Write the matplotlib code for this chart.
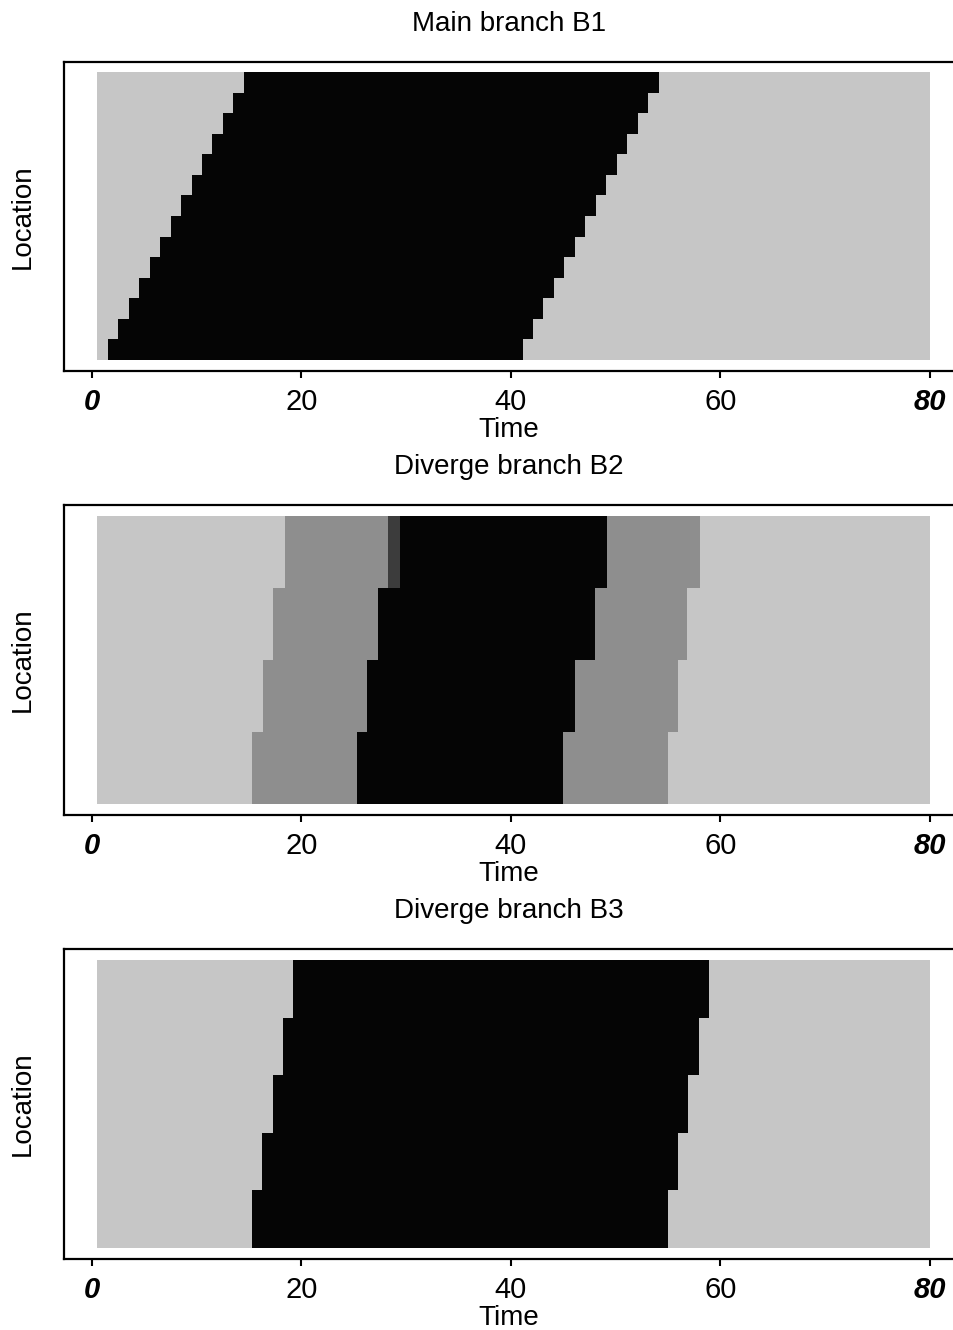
import matplotlib
matplotlib.use("Agg")
import matplotlib.pyplot as plt

plt.rcParams['font.family'] = ['Liberation Sans', 'DejaVu Sans']

# ---------------- data ----------------
titles = ["Main branch B1", "Diverge branch B2", "Diverge branch B3"]
x_ticks = [0, 20, 40, 60, 80]
x_tick_labels = ["0", "20", "40", "60", "80"]

# simulation horizon covered by the grey (free-flow) cells
t_first = 0.45
t_last = 80.0

# B1: 14 locations (bottom -> top), congested (black) interval per location
B1_black_start = [1.5, 2.5, 3.5, 4.5, 5.5, 6.5, 7.5, 8.5, 9.5, 10.5, 11.5, 12.5, 13.5, 14.5]
B1_black_end = [41.1, 42.1, 43.1, 44.1, 45.1, 46.1, 47.1, 48.1, 49.1, 50.1, 51.1, 52.1, 53.1, 54.1]

# B2: 4 locations (bottom -> top)
B2_mid_start = [15.3, 16.3, 17.3, 18.4]
B2_black_start = [25.3, 26.3, 27.3, 28.3]
B2_black_end = [45.0, 46.1, 48.0, 49.2]
B2_mid_end = [55.0, 55.9, 56.8, 58.0]
# darker transition cell in the top location of B2
B2_dark_row = 4
B2_dark_start = 28.3
B2_dark_end = 29.4

# B3: 5 locations (bottom -> top)
B3_black_start = [15.3, 16.2, 17.3, 18.2, 19.2]
B3_black_end = [55.0, 55.9, 56.9, 57.9, 58.9]

# ---------------- style ----------------
LIGHT = "#c6c6c6"
MID = "#8e8e8e"
DARK = "#3c3c3c"
BLACK = "#050505"

W, H = 954, 1330
fig = plt.figure(figsize=(W / 100, H / 100), dpi=100)

# pixel geometry of the three panels (top, bottom)
panel_px = [(62, 371), (505, 815), (949, 1259)]
left_px = 64
px_per_t = (930 - 92) / 80.0
xlim = (0 - (92 - left_px) / px_per_t, 80 + (W - 930) / px_per_t)


def draw_band(ax, rows, starts, ends, color):
    ax.barh(rows, [e - s for s, e in zip(starts, ends)], left=starts, height=1.0,
            color=color, linewidth=0, antialiased=False)


def setup(ax, idx, title, nrows):
    ax.set_xlim(*xlim)
    top, bot = panel_px[idx]
    ax_h = bot - top
    grey_h = 288.0
    row_h = grey_h / nrows
    margin_bot = 11.0
    margin_top = ax_h - grey_h - margin_bot
    ax.set_ylim(0.5 - margin_bot / row_h, nrows + 0.5 + margin_top / row_h)
    ax.set_yticks([])
    ax.set_xticks(x_ticks)
    ax.set_xticklabels(x_tick_labels)
    for i, lab in enumerate(ax.get_xticklabels()):
        lab.set_fontsize(21)
        if i in (0, len(x_ticks) - 1):
            lab.set_fontstyle('italic')
            lab.set_fontweight('bold')
    ax.tick_params(axis='x', direction='out', length=5, width=1.5, pad=7)
    ax.spines['right'].set_visible(False)
    for s in ('left', 'top', 'bottom'):
        ax.spines[s].set_linewidth(1.6)
    ax.set_title(title, fontsize=20, pad=22)
    ax.set_xlabel("Time", fontsize=20, labelpad=1)
    ax.set_ylabel("Location", fontsize=20, labelpad=20)


axes = []
for top, bot in panel_px:
    ax = fig.add_axes([left_px / W, 1 - bot / H, (W - left_px) / W, (bot - top) / H])
    axes.append(ax)

# B1
ax = axes[0]
n = len(B1_black_start)
rows = list(range(1, n + 1))
draw_band(ax, rows, [t_first] * n, [t_last] * n, LIGHT)
draw_band(ax, rows, B1_black_start, B1_black_end, BLACK)
setup(ax, 0, titles[0], n)

# B2
ax = axes[1]
n = len(B2_mid_start)
rows = list(range(1, n + 1))
draw_band(ax, rows, [t_first] * n, [t_last] * n, LIGHT)
draw_band(ax, rows, B2_mid_start, B2_mid_end, MID)
draw_band(ax, rows, B2_black_start, B2_black_end, BLACK)
draw_band(ax, [B2_dark_row], [B2_dark_start], [B2_dark_end], DARK)
setup(ax, 1, titles[1], n)

# B3
ax = axes[2]
n = len(B3_black_start)
rows = list(range(1, n + 1))
draw_band(ax, rows, [t_first] * n, [t_last] * n, LIGHT)
draw_band(ax, rows, B3_black_start, B3_black_end, BLACK)
setup(ax, 2, titles[2], n)

fig.savefig("out.png", dpi=100)
